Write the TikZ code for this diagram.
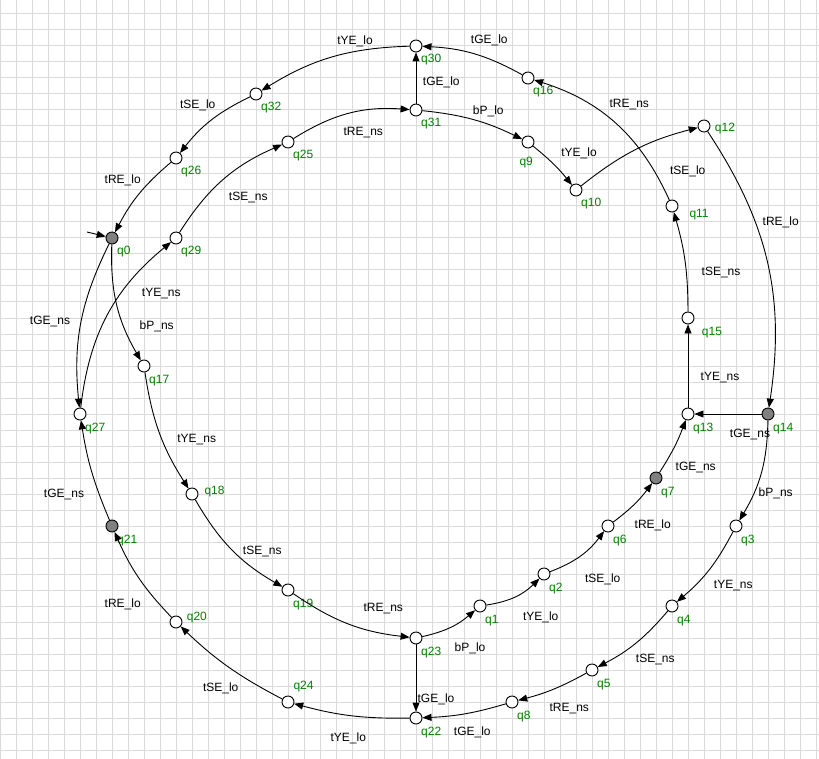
\documentclass[tikz,border=0pt]{standalone}
\usepackage{fontspec}
\setmainfont{Liberation Sans}
\usetikzlibrary{arrows.meta}
\definecolor{gridc}{RGB}{218,218,218}
\definecolor{qgreen}{RGB}{0,128,0}
\definecolor{qgray}{RGB}{128,128,128}
\begin{document}
\begin{tikzpicture}[x=1pt,y=-1pt,
  state/.style={circle,draw=black,fill=white,line width=0.9pt,minimum size=12pt,inner sep=0pt},
  acc/.style={state,fill=qgray},
  qlab/.style={text=qgreen,font=\fontsize{12pt}{14pt}\selectfont,inner sep=0pt,anchor=base west},
  elab/.style={text=black,font=\fontsize{12pt}{14pt}\selectfont,inner sep=0pt,anchor=base},
  edge/.style={draw=black,line width=0.9pt,-{Triangle[length=9pt,width=7pt]}}]
\useasboundingbox (0,0) rectangle (819,759);
\fill[white] (0,0) rectangle (819,759);
\foreach \x in {0,16,...,816} \draw[gridc,line width=1pt] (\x,0) -- (\x,759);
\foreach \y in {14,30,...,750} \draw[gridc,line width=1pt] (0,\y) -- (819,\y);

% states
\node[acc]   (q0)  at (112,238) {};
\node[state] (q1)  at (480,606) {};
\node[state] (q2)  at (544,574) {};
\node[state] (q3)  at (736,526) {};
\node[state] (q4)  at (672,606) {};
\node[state] (q5)  at (592,670) {};
\node[state] (q6)  at (608,526) {};
\node[acc]   (q7)  at (656,478) {};
\node[state] (q8)  at (512,702) {};
\node[state] (q9)  at (528,142) {};
\node[state] (q10) at (576,190) {};
\node[state] (q11) at (672,206) {};
\node[state] (q12) at (704,126) {};
\node[state] (q13) at (688,414) {};
\node[acc]   (q14) at (768,414) {};
\node[state] (q15) at (688,318) {};
\node[state] (q16) at (528,78) {};
\node[state] (q17) at (144,366) {};
\node[state] (q18) at (192,494) {};
\node[state] (q19) at (288,590) {};
\node[state] (q20) at (176,622) {};
\node[acc]   (q21) at (112,526) {};
\node[state] (q22) at (416,718) {};
\node[state] (q23) at (416,638) {};
\node[state] (q24) at (288,702) {};
\node[state] (q25) at (288,142) {};
\node[state] (q26) at (176,158) {};
\node[state] (q27) at (80,414) {};
\node[state] (q29) at (176,238) {};
\node[state] (q30) at (416,46) {};
\node[state] (q31) at (416,110) {};
\node[state] (q32) at (256,94) {};

% state labels
\node[qlab] (lq0)  at (117,255) {q0};
\node[qlab] (lq1)  at (485,623) {q1};
\node[qlab] (lq2)  at (549,591) {q2};
\node[qlab] (lq3)  at (741,543) {q3};
\node[qlab] (lq4)  at (677,623) {q4};
\node[qlab] (lq5)  at (597,687) {q5};
\node[qlab] (lq6)  at (613,543) {q6};
\node[qlab] (lq7)  at (661,495) {q7};
\node[qlab] (lq8)  at (517,719) {q8};
\node[qlab] (lq9)  at (519.3,165.3) {q9};
\node[qlab] (lq10) at (581,207) {q10};
\node[qlab] (lq11) at (689.3,217.6) {q11};
\node[qlab] (lq12) at (714.7,132) {q12};
\node[qlab] (lq13) at (693,431) {q13};
\node[qlab] (lq14) at (773,431) {q14};
\node[qlab] (lq15) at (701.7,335.3) {q15};
\node[qlab] (lq16) at (533,95) {q16};
\node[qlab] (lq17) at (149,383) {q17};
\node[qlab] (lq18) at (204.3,494.3) {q18};
\node[qlab] (lq19) at (293,607) {q19};
\node[qlab] (lq20) at (186.7,620.3) {q20};
\node[qlab] (lq21) at (117,543) {q21};
\node[qlab] (lq22) at (421,735) {q22};
\node[qlab] (lq23) at (421,655) {q23};
\node[qlab] (lq24) at (293.3,689.3) {q24};
\node[qlab] (lq25) at (293,159) {q25};
\node[qlab] (lq26) at (181,175) {q26};
\node[qlab] (lq27) at (85,431) {q27};
\node[qlab] (lq29) at (181,255) {q29};
\node[qlab] (lq30) at (421,63) {q30};
\node[qlab] (lq31) at (421,127) {q31};
\node[qlab] (lq32) at (261,111) {q32};

% initial arrow
\coordinate (init) at (87,232);
\draw[edge] (init) -- (q0);

% transitions
\draw[edge] (q30) to[bend right=15] (q32);
\draw[edge] (q32) to[bend right=13] (q26);
\draw[edge] (q26) to[bend right=11] (q0);
\draw[edge] (q0)  to[bend right=16] (q27);
\draw[edge] (q0)  to[bend right=16] (q17);
\draw[edge] (q17) to[bend right=12] (q18);
\draw[edge] (q18) to[bend right=15] (q19);
\draw[edge] (q19) to[bend right=14] (q23);
\draw[edge] (q23) to[bend right=14] (q1);
\draw[edge] (q1)  to[bend right=18] (q2);
\draw[edge] (q2)  to[bend right=16] (q6);
\draw[edge] (q6)  to[bend right=8]  (q7);
\draw[edge] (q7)  to[bend right=6]  (q13);
\draw[edge] (q23) -- (q22);
\draw[edge] (q14) -- (q13);
\draw[edge] (q13) -- (q15);
\draw[edge] (q15) to[bend right=8]  (q11);
\draw[edge] (q11) to[bend right=24] (q16);
\draw[edge] (q16) to[bend right=13] (q30);
\draw[edge] (q31) -- (q30);
\draw[edge] (q31) to[bend left=10] (q9);
\draw[edge] (q9)  to[bend left=6]  (q10);
\draw[edge] (q10) to[bend left=12] (q12);
\draw[edge] (q12) to[bend left=21] (q14);
\draw[edge] (q14) to[bend left=15] (q3);
\draw[edge] (q3)  to[bend left=11] (q4);
\draw[edge] (q4)  to[bend left=11] (q5);
\draw[edge] (q5)  to[bend left=7]  (q8);
\draw[edge] (q8)  to[bend left=7]  (q22);
\draw[edge] (q22) to[bend left=8]  (q24);
\draw[edge] (q24) to[bend left=8]  (q20);
\draw[edge] (q20) to[bend left=10] (q21);
\draw[edge] (q21) to[bend left=7]  (q27);
\draw[edge] (q27) to[bend left=22] (q29);
\draw[edge] (q29) to[bend left=17] (q25);
\draw[edge] (q25) to[bend left=18] (q31);

% transition labels
\node[elab] (e1)  at (355,44.3)    {tYE\_lo};
\node[elab] (e2)  at (197.7,108.3) {tSE\_lo};
\node[elab] (e3)  at (122.7,183.3) {tRE\_lo};
\node[elab] (e4)  at (363.3,135.3) {tRE\_ns};
\node[elab] (e5)  at (248.3,200.3) {tSE\_ns};
\node[elab] (e6)  at (161.3,296.3) {tYE\_ns};
\node[elab] (e7)  at (156.7,329.3) {bP\_ns};
\node[elab] (e8)  at (50,324.3)    {tGE\_ns};
\node[elab] (e9)  at (489.3,43.3)  {tGE\_lo};
\node[elab] (e10) at (441.3,85.3)  {tGE\_lo};
\node[elab] (e11) at (488.3,115)   {bP\_lo};
\node[elab] (e12) at (629.3,107.6) {tRE\_ns};
\node[elab] (e13) at (579,156.3)   {tYE\_lo};
\node[elab] (e14) at (687.7,174.3) {tSE\_lo};
\node[elab] (e15) at (780.7,225.3) {tRE\_lo};
\node[elab] (e16) at (721,275.3)   {tSE\_ns};
\node[elab] (e17) at (720,380)     {tYE\_ns};
\node[elab] (e18) at (750,437.6)   {tGE\_ns};
\node[elab] (e19) at (196.7,442.6) {tYE\_ns};
\node[elab] (e20) at (64,497.6)    {tGE\_ns};
\node[elab] (e21) at (262.3,554.3) {tSE\_ns};
\node[elab] (e22) at (122.7,607)   {tRE\_lo};
\node[elab] (e23) at (383.3,611.6) {tRE\_ns};
\node[elab] (e24) at (220.7,691)   {tSE\_lo};
\node[elab] (e25) at (348.3,741.6) {tYE\_lo};
\node[elab] (e26) at (695.7,470.3) {tGE\_ns};
\node[elab] (e27) at (775.7,496.3) {bP\_ns};
\node[elab] (e28) at (652.7,528.3) {tRE\_lo};
\node[elab] (e29) at (602.7,582.3) {tSE\_lo};
\node[elab] (e30) at (733.3,588)   {tYE\_ns};
\node[elab] (e31) at (540.7,620.3) {tYE\_lo};
\node[elab] (e32) at (470,651)     {bP\_lo};
\node[elab] (e33) at (655.3,662)   {tSE\_ns};
\node[elab] (e34) at (436,702)     {tGE\_lo};
\node[elab] (e35) at (569.3,711)   {tRE\_ns};
\node[elab] (e36) at (472.3,735)   {tGE\_lo};
\end{tikzpicture}
\end{document}
